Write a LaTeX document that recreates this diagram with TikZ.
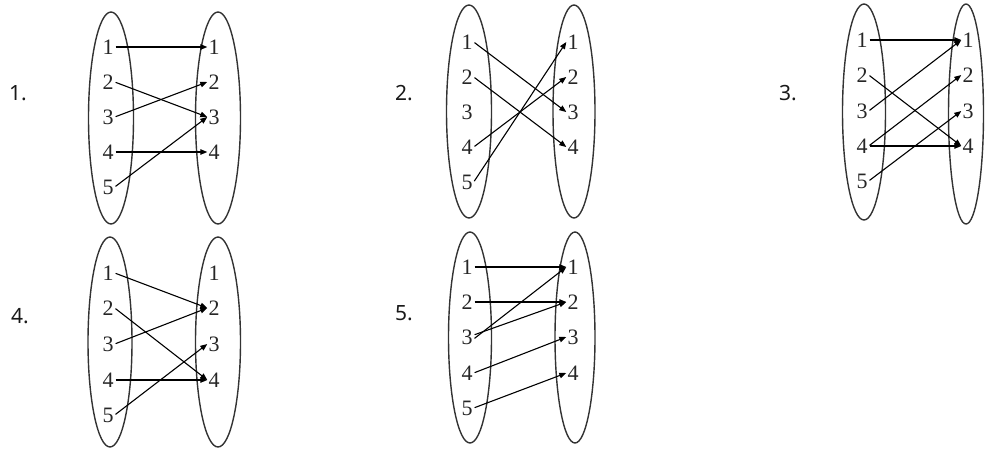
\documentclass[tikz,border=0pt]{standalone}
\usepackage{fontspec}
\setmainfont{Liberation Serif}
\newfontfamily\itemfont{Noto Sans}
\usetikzlibrary{arrows.meta,shapes.geometric}
\tikzset{
  setov/.style={draw=black!80, line width=1.4pt, ellipse, inner sep=0pt},
  num/.style={inner sep=1pt, font=\fontsize{22}{22}\selectfont, text=black!85},
  itemlbl/.style={inner sep=0pt, font=\itemfont\fontsize{21}{21}\selectfont, text=black!90},
  maparrow/.style={-{Triangle[length=7pt,width=5.5pt]}, line width=1.1pt, black, shorten <=1pt},
}
\begin{document}
\begin{tikzpicture}[x=1pt,y=-1pt]
\useasboundingbox (0,0) rectangle (985,448);
% ---------- 1 ----------
\node[itemlbl] (i1) at (18,93) {1.};
\node[setov, minimum width=45pt, minimum height=212pt] (A1) at (111,118) {};
\node[setov, minimum width=45pt, minimum height=212pt] (B1) at (218,118) {};
\foreach \i/\y in {1/47,2/82,3/117,4/152,5/187} \node[num] (a1\i) at (108,\y) {\i};
\foreach \i/\y in {1/47,2/82,3/117,4/152} \node[num] (b1\i) at (214,\y) {\i};
\draw[maparrow] (a11.east) -- (b11.west);
\draw[maparrow] (a12.east) -- (b13.west);
\draw[maparrow] (a13.east) -- (b12.west);
\draw[maparrow] (a14.east) -- (b14.west);
\draw[maparrow] (a15.east) -- (b13.west);
% ---------- 2 ----------
\node[itemlbl] (i2) at (404,93) {2.};
\node[setov, minimum width=45pt, minimum height=213pt] (A2) at (469,111.5) {};
\node[setov, minimum width=42pt, minimum height=213pt] (B2) at (574,111.5) {};
\foreach \i/\y in {1/42,2/77,3/112,4/147,5/182} \node[num] (a2\i) at (467,\y) {\i};
\foreach \i/\y in {1/42,2/77,3/112,4/147} \node[num] (b2\i) at (573,\y) {\i};
\draw[maparrow] (a21.east) -- (b23.west);
\draw[maparrow] (a22.east) -- (b24.west);
\draw[maparrow] (a24.east) -- (b22.west);
\draw[maparrow] (a25.east) -- (b21.west);
% ---------- 3 ----------
\node[itemlbl] (i3) at (788,93) {3.};
\node[setov, minimum width=43pt, minimum height=216pt] (A3) at (864,112) {};
\node[setov, minimum width=35pt, minimum height=220pt] (B3) at (966,114) {};
\foreach \i/\y in {1/40,2/75,3/111,4/146,5/181} \node[num] (a3\i) at (862,\y) {\i};
\foreach \i/\y in {1/40,2/75,3/111,4/146} \node[num] (b3\i) at (968,\y) {\i};
\draw[maparrow] (a31.east) -- (b31.west);
\draw[maparrow] (a32.east) -- (b34.west);
\draw[maparrow] (a33.east) -- (b31.west);
\draw[maparrow] (a34.east) -- (b32.west);
\draw[maparrow] (a34.east) -- (b34.west);
\draw[maparrow] (a35.east) -- (b33.west);
% ---------- 4 ----------
\node[itemlbl] (i4) at (20,316) {4.};
\node[setov, minimum width=44pt, minimum height=210pt] (A4) at (110,342) {};
\node[setov, minimum width=45pt, minimum height=210pt] (B4) at (218,342) {};
\foreach \i/\y in {1/273,2/308,3/344,4/380,5/415} \node[num] (a4\i) at (108,\y) {\i};
\foreach \i/\y in {1/273,2/308,3/344,4/380} \node[num] (b4\i) at (214,\y) {\i};
\draw[maparrow] (a41.east) -- (b42.west);
\draw[maparrow] (a42.east) -- (b44.west);
\draw[maparrow] (a43.east) -- (b42.west);
\draw[maparrow] (a44.east) -- (b44.west);
\draw[maparrow] (a45.east) -- (b43.west);
% ---------- 5 ----------
\node[itemlbl] (i5) at (404,313) {5.};
\node[setov, minimum width=43pt, minimum height=211pt] (A5) at (470,337.5) {};
\node[setov, minimum width=40pt, minimum height=211pt] (B5) at (575,337.5) {};
\foreach \i/\y in {1/267,2/302,3/337,4/373,5/408} \node[num] (a5\i) at (467,\y) {\i};
\foreach \i/\y in {1/267,2/302,3/337,4/373} \node[num] (b5\i) at (573,\y) {\i};
\draw[maparrow] (a51.east) -- (b51.west);
\draw[maparrow] (a52.east) -- (b52.west);
\draw[maparrow] ([yshift=-2pt]a53.east) -- (b51.west);
\draw[maparrow] ([yshift=2pt]a53.east) -- (b52.west);
\draw[maparrow] (a54.east) -- (b53.west);
\draw[maparrow] (a55.east) -- (b54.west);
\end{tikzpicture}
\end{document}
